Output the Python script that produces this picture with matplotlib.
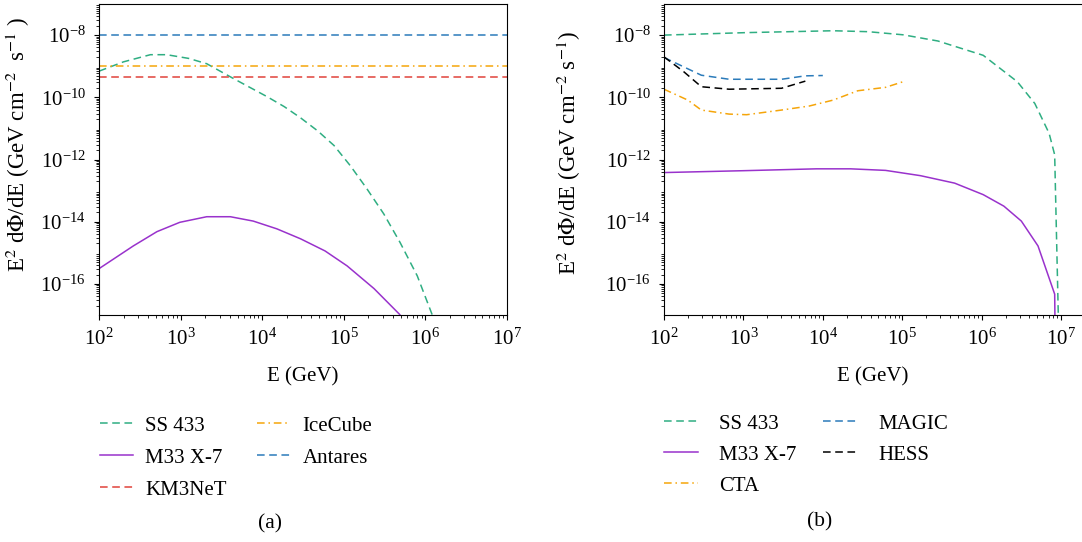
import numpy as np
import matplotlib
matplotlib.use("Agg")
import matplotlib.pyplot as plt
from matplotlib.ticker import LogLocator, NullFormatter

plt.rcParams['font.family'] = ['Liberation Serif', 'DejaVu Serif']
plt.rcParams['mathtext.fontset'] = 'stix'
plt.rcParams['font.size'] = 15

# panel (a): log10(E/GeV) and log10(E^2 dPhi/dE)
ss433_a_logE = [2.0, 2.3, 2.63, 2.83, 3.1, 3.32, 3.65, 4.06, 4.27, 4.47, 4.68, 4.88, 5.08, 5.28, 5.49, 5.69, 5.90, 6.08, 6.12]
ss433_a_logF = [-9.16, -8.86, -8.63, -8.63, -8.75, -8.92, -9.40, -9.98, -10.30, -10.66, -11.08, -11.55, -12.20, -12.93, -13.75, -14.67, -15.74, -16.97, -17.3]
m33_a_logE = [2.0, 2.42, 2.71, 2.99, 3.32, 3.61, 3.89, 4.18, 4.47, 4.77, 5.04, 5.37, 5.68, 5.75]
m33_a_logF = [-15.51, -14.78, -14.32, -14.02, -13.84, -13.84, -13.98, -14.23, -14.55, -14.94, -15.42, -16.15, -16.97, -17.2]
km3net_flux = 4.5e-10
icecube_flux = 1.0e-9
antares_flux = 1.0e-8

# panel (b)
ss433_b_logE = [2.0, 3.04, 4.13, 4.57, 5.01, 5.45, 6.02, 6.45, 6.67, 6.85, 6.92, 6.93, 6.97]
ss433_b_logF = [-8.0, -7.92, -7.86, -7.89, -7.99, -8.19, -8.65, -9.50, -10.20, -11.16, -11.85, -13.0, -17.5]
m33_b_logE = [2.0, 3.0, 3.92, 4.35, 4.79, 5.23, 5.66, 6.02, 6.28, 6.50, 6.71, 6.92, 6.925]
m33_b_logF = [-12.42, -12.36, -12.30, -12.30, -12.35, -12.52, -12.76, -13.13, -13.50, -13.98, -14.78, -16.33, -17.5]
cta_logE = [2.0, 2.30, 2.47, 2.82, 3.04, 3.48, 3.83, 4.13, 4.44, 4.79, 5.01]
cta_logF = [-9.74, -10.09, -10.41, -10.54, -10.56, -10.41, -10.28, -10.09, -9.79, -9.68, -9.50]
magic_logE = [2.0, 2.47, 2.82, 3.48, 3.78, 4.0]
magic_logF = [-8.72, -9.29, -9.42, -9.42, -9.31, -9.30]
hess_logE = [2.0, 2.25, 2.47, 2.82, 3.48, 3.78]
hess_logF = [-8.70, -9.18, -9.66, -9.74, -9.71, -9.48]

c_green = '#2fae82'
c_purple = '#9932cc'
c_red = '#e0433a'
c_orange = '#f5a50a'
c_blue = '#2b7bba'

dash = (0, (5, 3))
dashdot = (0, (5, 2.5, 1, 2.5))

fig = plt.figure(figsize=(10.82, 5.42), dpi=100)
ax1 = fig.add_axes([99 / 1082, 1 - 315 / 542, 408 / 1082, 311 / 542])
ax2 = fig.add_axes([664 / 1082, 1 - 315 / 542, 418 / 1082, 311 / 542])

def p(v):
    return 10 ** np.array(v)

lw = 1.1
ax1.plot(p(ss433_a_logE), p(ss433_a_logF), color=c_green, ls=dash, lw=lw, label='SS 433')
ax1.plot(p(m33_a_logE), p(m33_a_logF), color=c_purple, ls='-', lw=lw, label='M33 X-7')
ax1.axhline(km3net_flux, color=c_red, ls=dash, lw=lw, label='KM3NeT')
ax1.axhline(icecube_flux, color=c_orange, ls=dashdot, lw=lw, label='IceCube')
ax1.axhline(antares_flux, color=c_blue, ls=dash, lw=lw, label='Antares')

ax2.plot(p(ss433_b_logE), p(ss433_b_logF), color=c_green, ls=dash, lw=lw, label='SS 433')
ax2.plot(p(m33_b_logE), p(m33_b_logF), color=c_purple, ls='-', lw=lw, label='M33 X-7')
ax2.plot(p(cta_logE), p(cta_logF), color=c_orange, ls=dashdot, lw=lw, label='CTA')
ax2.plot(p(magic_logE), p(magic_logF), color=c_blue, ls=dash, lw=lw, label='MAGIC')
ax2.plot(p(hess_logE), p(hess_logF), color='black', ls=dash, lw=lw, label='HESS')

for ax in (ax1, ax2):
    ax.set_xscale('log')
    ax.set_yscale('log')
    ax.set_ylim(1e-17, 1e-7)
    ax.set_yticks([1e-16, 1e-14, 1e-12, 1e-10, 1e-8])
    ax.yaxis.set_minor_locator(LogLocator(base=10, subs=np.arange(2, 10), numticks=100))
    ax.yaxis.set_minor_formatter(NullFormatter())
    ax.set_xticks([1e2, 1e3, 1e4, 1e5, 1e6, 1e7])
    ax.xaxis.set_minor_locator(LogLocator(base=10, subs=np.arange(2, 10), numticks=100))
    ax.xaxis.set_minor_formatter(NullFormatter())
    ax.set_xlabel('E (GeV)', fontsize=15, labelpad=13)
    ax.tick_params(axis='x', labelsize=15, pad=6)
    ax.tick_params(axis='y', labelsize=15, pad=6)

ax1.set_xlim(1e2, 1e7)
ax2.set_xlim(1e2, 10 ** 7.264)
ax2.spines['right'].set_visible(False)

ax1.set_ylabel(r'E$^2$ d$\Phi$/dE (GeV cm$^{-2}$  s$^{-1}$ )', fontsize=16.5)
ax2.set_ylabel(r'E$^2$ d$\Phi$/dE (GeV cm$^{-2}$ s$^{-1}$)', fontsize=16.5)
ax1.yaxis.set_label_coords(-0.164, 0.55)
ax2.yaxis.set_label_coords(-0.194, 0.52)

ax1.legend(loc='upper left', bbox_to_anchor=(100 / 1082, 1 - 416 / 542), bbox_transform=fig.transFigure,
           ncol=2, frameon=False, borderpad=0, borderaxespad=0, handlelength=1.6,
           handletextpad=0.58, columnspacing=1.45, labelspacing=0.6, fontsize=15)
ax2.legend(loc='upper left', bbox_to_anchor=(664 / 1082, 1 - 414 / 542), bbox_transform=fig.transFigure,
           ncol=2, frameon=False, borderpad=0, borderaxespad=0, handlelength=1.63,
           handletextpad=1.0, columnspacing=1.3, labelspacing=0.55, fontsize=15)

fig.text(270 / 1082, 1 - 524 / 542, '(a)', ha='center', va='center', fontsize=15.5)
fig.text(820 / 1082, 1 - 522 / 542, '(b)', ha='center', va='center', fontsize=15.5)

fig.savefig('out.png', dpi=100)
